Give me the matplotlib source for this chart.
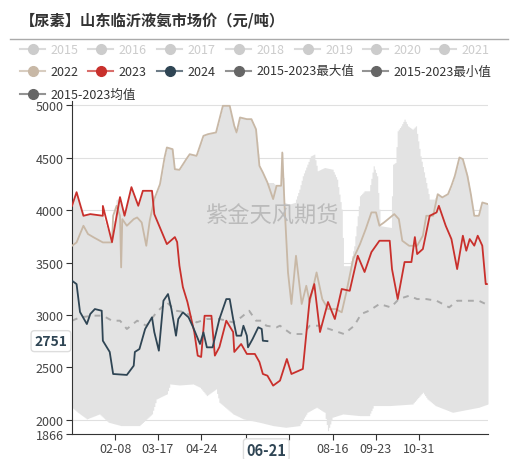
import matplotlib
matplotlib.use("Agg")
import matplotlib.pyplot as plt
from matplotlib.lines import Line2D
import numpy as np

plt.rcParams["font.family"] = ["Noto Sans CJK SC", "DejaVu Sans"]

# day-of-year, value pairs
d2023 = [1, 5, 11, 17, 28, 28, 36, 43, 47, 53, 59, 63, 71, 73, 84, 91, 93, 95, 98, 102, 108, 111, 114, 117,
         123, 126, 130, 136, 142, 143, 149, 154, 161, 165, 168, 172, 177, 183, 189, 193, 203, 209, 213, 218,
         225, 231, 237, 244, 251, 257, 263, 270, 279, 281, 286, 292, 298, 301, 303, 308, 314, 320, 322, 328,
         333, 338, 343, 346, 349, 353, 356, 360, 363, 364]
v2023 = [4041, 4171, 3946, 3962, 3946, 4040, 3695, 4124, 3946, 4219, 4041, 4184, 4184, 3962, 3676, 3743, 3695,
         3470, 3267, 3124, 2838, 2613, 2600, 2993, 2993, 2613, 2695, 2946, 2838, 2648, 2724, 2629, 2629, 2552,
         2438, 2422, 2327, 2375, 2581, 2438, 2486, 3152, 3295, 2838, 3124, 2962, 3248, 3231, 3565, 3410, 3600,
         3708, 3708, 3438, 3152, 3505, 3505, 3743, 3581, 3629, 3946, 3978, 4041, 3851, 3724, 3438, 3756, 3613,
         3724, 3661, 3756, 3661, 3295, 3295]

d2024 = [1, 5, 8, 14, 17, 21, 27, 28, 34, 37, 49, 55, 56, 60, 65, 71, 73, 77, 81, 85, 88, 92, 94, 98, 103,
         107, 113, 116, 119, 124, 130, 136, 139, 142, 145, 149, 151, 154, 155, 159, 164, 167, 168, 172]
v2024 = [3327, 3295, 3029, 2914, 3010, 3057, 3041, 2755, 2648, 2438, 2429, 2517, 2648, 2676, 2867, 2978, 2838,
         2660, 3136, 3200, 3057, 2803, 2962, 3026, 2978, 2883, 2724, 2835, 2692, 2692, 2962, 3152, 3152, 2962,
         2803, 2803, 2898, 2803, 2692, 2771, 2883, 2867, 2755, 2751]

d2022 = [1, 5, 11, 15, 20, 28, 36, 37, 40, 43, 44, 45, 49, 55, 58, 62, 66, 69, 73, 78, 82, 84, 89, 91, 95,
         101, 104, 110, 116, 120, 127, 133, 139, 143, 145, 148, 154, 158, 162, 165, 168, 172, 177, 180, 184,
         185, 187, 190, 193, 197, 202, 206, 209, 215, 220, 225, 232, 237, 241, 247, 253, 258, 263, 267, 270,
         274, 283, 287, 290, 296, 303, 308, 311, 317, 321, 325, 330, 333, 336, 340, 343, 347, 350, 353, 357,
         360, 365]
v2022 = [3660, 3692, 3851, 3772, 3740, 3692, 3692, 3946, 4041, 3946, 3454, 3914, 3851, 3914, 3930, 3882, 3660,
         3898, 4105, 4248, 4502, 4597, 4581, 4390, 4384, 4486, 4533, 4517, 4708, 4724, 4740, 4994, 4994, 4803,
         4740, 4883, 4867, 4867, 4771, 4422, 4359, 4263, 4105, 4232, 4232, 4549, 4041, 3406, 3105, 3565, 3105,
         3279, 3121, 3406, 3152, 3057, 3057, 3026, 3215, 3533, 3676, 3819, 3978, 3978, 3851, 3882, 3962, 3914,
         3708, 3660, 3660, 3756, 3946, 3946, 4152, 4121, 4152, 4232, 4327, 4502, 4486, 4327, 4152, 3946, 3946,
         4073, 4057]

d_mean = [1, 8, 20, 28, 36, 43, 49, 58, 66, 75, 84, 92, 101, 110, 119, 130, 142, 149, 156, 162, 167, 171,
          180, 183, 193, 203, 209, 218, 226, 239, 248, 254, 261, 270, 280, 287, 296, 303, 311, 320, 331, 338,
          349, 357, 363]
v_mean = [2946, 2978, 2994, 2994, 2946, 2946, 2867, 2946, 2898, 3026, 3121, 3041, 3026, 2930, 2962, 2962, 2930,
          2978, 3041, 2946, 2946, 2898, 2883, 2898, 2819, 2819, 2898, 2898, 2867, 2819, 2898, 3010, 3041, 3105,
          3073, 3152, 3184, 3152, 3152, 3136, 3073, 3136, 3136, 3136, 3105]

d_max = [1, 5, 11, 17, 28, 36, 40, 43, 47, 53, 59, 63, 71, 73, 78, 82, 84, 89, 91, 95, 101, 104, 110, 116,
         120, 127, 133, 139, 143, 145, 148, 154, 158, 162, 165, 168, 172, 177, 180, 184, 185, 187, 191, 196,
         200, 203, 207, 210, 213, 216, 222, 229, 233, 237, 239, 244, 248, 253, 257, 261, 265, 268, 271, 280,
         282, 284, 286, 289, 292, 295, 299, 302, 306, 311, 314, 318, 321, 325, 330, 333, 336, 340, 343, 347,
         350, 353, 357, 360, 365]
v_max = [4041, 4171, 3960, 3962, 3946, 3700, 4100, 4124, 3946, 4219, 4041, 4184, 4184, 4105, 4248, 4502, 4597,
         4581, 4390, 4384, 4486, 4533, 4517, 4708, 4724, 4740, 4994, 4994, 4803, 4740, 4883, 4867, 4867, 4771,
         4422, 4359, 4263, 4263, 4232, 4232, 4549, 4073, 4057, 4073, 4200, 4327, 4438, 4517, 4533, 4375, 4406,
         4390, 4295, 4010, 3470, 3470, 3660, 4136, 4184, 4184, 4422, 4327, 3851, 3835, 4438, 4454, 4756, 4803,
         4867, 4803, 4771, 4803, 4517, 4263, 4105, 4105, 4152, 4121, 4152, 4232, 4327, 4502, 4486, 4327, 4152,
         3946, 3946, 4073, 4057]

d_min = [1, 6, 14, 25, 33, 44, 60, 71, 75, 84, 87, 95, 107, 113, 119, 127, 130, 142, 151, 165, 177, 188, 200,
         207, 215, 222, 225, 229, 238, 253, 261, 265, 279, 299, 308, 312, 319, 334, 357, 365]
v_min = [2121, 2073, 2010, 2057, 1978, 1946, 1946, 2057, 2200, 2248, 2343, 2333, 2343, 2311, 2232, 2295, 2168,
         2057, 2010, 1978, 1946, 1930, 1946, 2073, 2121, 2073, 1898, 2026, 2057, 2041, 2041, 2137, 2137, 2152,
         2264, 2200, 2137, 2073, 2121, 2152]

tick_days = [39, 76, 114, 153, 191, 229, 267, 305]
tick_labels = ["02-08", "03-17", "04-24", "", "", "08-16", "09-23", "10-31"]
yticks = [1866, 2000, 2500, 3000, 3500, 4000, 4500, 5000]

c_red, c_dark, c_tan = "#c9302c", "#2f4554", "#c8b8a6"
c_band, c_mean = "#e3e3e3", "#aaaaaa"

fig = plt.figure(figsize=(5.19, 4.6), dpi=100)
ax = fig.add_axes([72 / 519, 25 / 460, 416 / 519, 333 / 460])

grid = np.arange(1, 366)
hi = np.interp(grid, d_max, v_max)
lo = np.interp(grid, d_min, v_min)
ax.fill_between(grid, lo, hi, color=c_band, lw=0, step="mid", zorder=1)
ax.plot(d_mean, v_mean, color=c_mean, lw=1.4, ls=(0, (3, 3)), zorder=2)
ax.plot(d2022, v2022, color=c_tan, lw=1.3, zorder=3)
ax.plot(d2023, v2023, color=c_red, lw=1.3, zorder=4)
ax.plot(d2024, v2024, color=c_dark, lw=1.3, zorder=5)

ax.set_xlim(1, 365)
ax.set_ylim(1866, 5040)
ax.set_yticks(yticks)
ax.set_yticklabels([str(v) for v in yticks], fontsize=9, color="#444444")
ax.set_xticks(tick_days)
ax.set_xticklabels(tick_labels, fontsize=9, color="#444444")
for v in yticks[1:]:
    ax.axhline(v, color="#e0e0e0", lw=0.8, zorder=0)
for s in ["top", "right"]:
    ax.spines[s].set_visible(False)
for s in ["left", "bottom"]:
    ax.spines[s].set_color("#333333")
ax.tick_params(length=4, color="#333333", pad=2)

ax.text(176, 3950, "紫金天风期货", fontsize=16, color="#bbbbbb", ha="center", va="center", zorder=6)
ax.text(171, 1866 - 150, "06-21", fontsize=10.5, fontweight="bold", color=c_dark, ha="center", va="center",
        bbox=dict(boxstyle="round,pad=0.2", fc="white", ec="#dddddd"), clip_on=False)
ax.text(-3, 2751, "2751", fontsize=10, fontweight="bold", color=c_dark, ha="right", va="center",
        bbox=dict(boxstyle="round,pad=0.25", fc="white", ec="#dddddd"), clip_on=False)

fig.text(20 / 519, 1 - 20 / 460, "【尿素】山东临沂液氨市场价（元/吨）", fontsize=11, fontweight="bold",
         color="#333333", va="center")
fig.add_artist(Line2D([10 / 519, 508 / 519], [1 - 40 / 460] * 2, color="#aaaaaa", lw=1))

legend_rows = [
    [("2015", 20, "#cccccc", "#cccccc"), ("2016", 88, "#cccccc", "#cccccc"), ("2017", 157, "#cccccc", "#cccccc"),
     ("2018", 226, "#cccccc", "#cccccc"), ("2019", 295, "#cccccc", "#cccccc"), ("2020", 363, "#cccccc", "#cccccc"),
     ("2021", 431, "#cccccc", "#cccccc")],
    [("2022", 20, c_tan, "#333333"), ("2023", 88, c_red, "#333333"), ("2024", 157, c_dark, "#333333"),
     ("2015-2023最大值", 226, "#666666", "#333333"), ("2015-2023最小值", 363, "#666666", "#333333")],
    [("2015-2023均值", 20, "#666666", "#333333")],
]
for row, ypx in zip(legend_rows, [50, 72, 95]):
    fy = 1 - ypx / 460
    for label, xpx, col, tcol in row:
        fig.add_artist(Line2D([xpx / 519, (xpx + 25) / 519], [fy, fy], color=col, lw=1.5, alpha=0.7))
        fig.add_artist(Line2D([(xpx + 12.5) / 519], [fy], marker="o", ms=7, color=col, lw=0))
        fig.text((xpx + 30) / 519, fy, label, fontsize=9, color=tcol, va="center")

fig.savefig("out.png", dpi=100)
